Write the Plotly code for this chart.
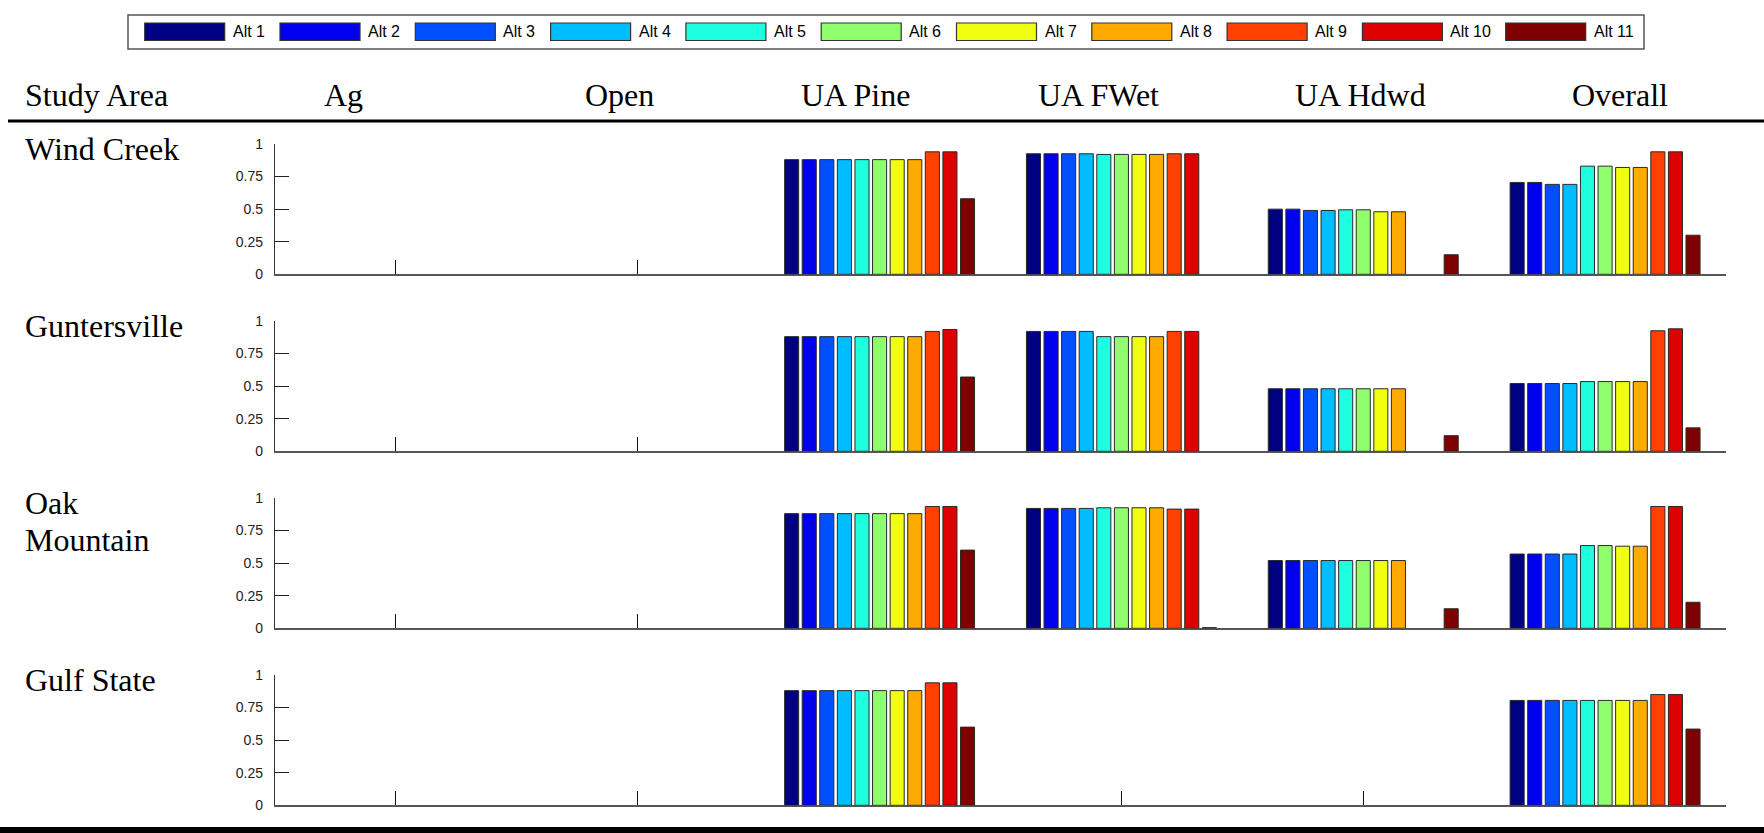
import plotly.graph_objects as go

# ---- data -------------------------------------------------------------
categories = ["Ag", "Open", "UA Pine", "UA FWet", "UA Hdwd", "Overall"]
alternatives = ["Alt 1", "Alt 2", "Alt 3", "Alt 4", "Alt 5", "Alt 6",
                "Alt 7", "Alt 8", "Alt 9", "Alt 10", "Alt 11"]
alt_colors = ["#000083", "#0000EE", "#0050FF", "#00BDFF", "#1EFFDF", "#90FF6E",
              "#F0FF10", "#FFAA00", "#FF4000", "#DE0000", "#7F0000"]
study_areas = ["Wind Creek", "Guntersville", "Oak<br>Mountain", "Gulf State"]

# one row per category, one value per alternative (Alt 1 .. Alt 11)
wind_creek = [
    [0, 0, 0, 0, 0, 0, 0, 0, 0, 0, 0],
    [0, 0, 0, 0, 0, 0, 0, 0, 0, 0, 0],
    [0.88, 0.88, 0.88, 0.88, 0.88, 0.88, 0.88, 0.88, 0.94, 0.94, 0.58],
    [0.925, 0.925, 0.925, 0.925, 0.92, 0.92, 0.92, 0.92, 0.925, 0.925, 0],
    [0.50, 0.50, 0.49, 0.49, 0.495, 0.495, 0.48, 0.48, 0, 0, 0.15],
    [0.705, 0.705, 0.69, 0.69, 0.83, 0.83, 0.82, 0.82, 0.94, 0.94, 0.30],
]
guntersville = [
    [0, 0, 0, 0, 0, 0, 0, 0, 0, 0, 0],
    [0, 0, 0, 0, 0, 0, 0, 0, 0, 0, 0],
    [0.88, 0.88, 0.88, 0.88, 0.88, 0.88, 0.88, 0.88, 0.92, 0.935, 0.57],
    [0.92, 0.92, 0.92, 0.92, 0.88, 0.88, 0.88, 0.88, 0.92, 0.92, 0],
    [0.48, 0.48, 0.48, 0.48, 0.48, 0.48, 0.48, 0.48, 0, 0, 0.12],
    [0.52, 0.52, 0.52, 0.52, 0.535, 0.535, 0.535, 0.535, 0.925, 0.94, 0.18],
]
oak_mountain = [
    [0, 0, 0, 0, 0, 0, 0, 0, 0, 0, 0],
    [0, 0, 0, 0, 0, 0, 0, 0, 0, 0, 0],
    [0.88, 0.88, 0.88, 0.88, 0.88, 0.88, 0.88, 0.88, 0.935, 0.935, 0.60],
    [0.92, 0.92, 0.92, 0.92, 0.925, 0.925, 0.925, 0.925, 0.915, 0.915, 0.005],
    [0.52, 0.52, 0.52, 0.52, 0.52, 0.52, 0.52, 0.52, 0, 0, 0.15],
    [0.57, 0.57, 0.57, 0.57, 0.635, 0.635, 0.63, 0.63, 0.935, 0.935, 0.20],
]
gulf_state = [
    [0, 0, 0, 0, 0, 0, 0, 0, 0, 0, 0],
    [0, 0, 0, 0, 0, 0, 0, 0, 0, 0, 0],
    [0.88, 0.88, 0.88, 0.88, 0.88, 0.88, 0.88, 0.88, 0.94, 0.94, 0.60],
    [0, 0, 0, 0, 0, 0, 0, 0, 0, 0, 0],
    [0, 0, 0, 0, 0, 0, 0, 0, 0, 0, 0],
    [0.805, 0.805, 0.805, 0.805, 0.805, 0.805, 0.805, 0.805, 0.85, 0.85, 0.585],
]
area_values = [wind_creek, guntersville, oak_mountain, gulf_state]

y_tickvals = [0, 0.25, 0.5, 0.75, 1]
y_ticktext = ["0", "0.25", "0.5", "0.75", "1"]

# ---- layout helpers (pixel -> paper) ----------------------------------
W, H = 1764, 833


def px(x):
    return x / W


def py(y):
    return 1 - y / H


SERIF = "Liberation Serif, Times New Roman, serif"
NARROW = "Liberation Sans Narrow, Arial Narrow, Liberation Sans, Arial, sans-serif"

plot_left, plot_right = 275, 1726
row_top0, row_bottom0, row_step = 144, 274.3, 177

fig = go.Figure()
layout_axes = {}

for r, values in enumerate(area_values):
    n = r + 1
    xa = "x" if n == 1 else f"x{n}"
    ya = "y" if n == 1 else f"y{n}"
    for a, name in enumerate(alternatives):
        # empty cells are left out so no outline is stroked on the baseline
        heights = [values[c][a] if values[c][a] > 0 else None
                   for c in range(len(categories))]
        fig.add_trace(go.Bar(
            x=categories,
            y=heights,
            name=name,
            marker=dict(color=alt_colors[a], line=dict(color="#2a2a2a", width=1)),
            xaxis=xa, yaxis=ya, showlegend=False, hoverinfo="x+y+name",
        ))
    top = row_top0 + r * row_step
    bottom = row_bottom0 + r * row_step
    layout_axes[f"xaxis{'' if n == 1 else n}"] = dict(
        domain=[px(plot_left), px(plot_right)], anchor=ya,
        type="category", range=[-0.5, len(categories) - 0.5],
        showticklabels=False, ticks="inside", ticklen=14, tickwidth=1.3,
        tickcolor="#111", showline=True, linecolor="#555", linewidth=2,
        showgrid=False, zeroline=False, layer="below traces", fixedrange=True,
        automargin=False,
    )
    layout_axes[f"yaxis{'' if n == 1 else n}"] = dict(
        domain=[py(bottom), py(top)], anchor=xa,
        range=[0, 1], tickvals=y_tickvals, ticktext=y_ticktext,
        ticks="inside", ticklen=14, tickwidth=1.3, tickcolor="#222",
        showline=True, linecolor="#333", linewidth=1.3,
        showgrid=False, zeroline=False, fixedrange=True, automargin=False,
        tickfont=dict(family=NARROW, size=14, color="#222"),
        ticklabelstandoff=8,
    )

annotations = []
shapes = []

# column headers
header_y = 95
annotations.append(dict(x=px(23), y=py(header_y), xref="paper", yref="paper",
                        text="Study Area", showarrow=False, xanchor="left",
                        yanchor="middle", font=dict(family=SERIF, size=32, color="black")))
header_centers = [343, 619, 855, 1098, 1360, 1620]
for cat, cx in zip(categories, header_centers):
    annotations.append(dict(x=px(cx), y=py(header_y), xref="paper", yref="paper",
                            text=cat, showarrow=False, xanchor="center",
                            yanchor="middle", font=dict(family=SERIF, size=32, color="black")))

# row labels
for r, area in enumerate(study_areas):
    lines = area.split("<br>")
    for k, line in enumerate(lines):
        annotations.append(dict(x=px(23), y=py(149 + r * row_step + k * 37),
                                xref="paper", yref="paper", text=line,
                                showarrow=False, xanchor="left", yanchor="middle",
                                font=dict(family=SERIF, size=32, color="black")))

# rules above and below the table body
shapes.append(dict(type="rect", xref="paper", yref="paper",
                   x0=px(8), x1=1, y0=py(119.5), y1=py(122.5),
                   fillcolor="black", line=dict(width=0)))
shapes.append(dict(type="rect", xref="paper", yref="paper",
                   x0=0, x1=1, y0=py(827), y1=py(833),
                   fillcolor="black", line=dict(width=0)))

# legend box with wide colour swatches
shapes.append(dict(type="rect", xref="paper", yref="paper",
                   x0=px(128), x1=px(1644), y0=py(49), y1=py(15),
                   fillcolor="white", line=dict(color="#555", width=1.5)))
sw_w, pitch = 80, 135.3
for i, (name, col) in enumerate(zip(alternatives, alt_colors)):
    x0 = 144.7 + pitch * i + (8 if i == 10 else 0)
    shapes.append(dict(type="rect", xref="paper", yref="paper",
                       x0=px(x0), x1=px(x0 + sw_w), y0=py(40.5), y1=py(23),
                       fillcolor=col, line=dict(color="#333", width=1.2)))
    annotations.append(dict(x=px(x0 + sw_w + 6), y=py(32), xref="paper", yref="paper",
                            text=name, showarrow=False, xanchor="left", yanchor="middle",
                            font=dict(family=NARROW, size=16, color="black")))

fig.update_layout(
    width=W, height=H,
    margin=dict(l=0, r=0, t=0, b=0, pad=0),
    paper_bgcolor="white", plot_bgcolor="white",
    barmode="group", bargap=0.2, bargroupgap=0.2,
    showlegend=False,
    annotations=annotations, shapes=shapes,
    **layout_axes,
)

# let the fixed-size figure sit flush in the page
page_fit = ("document.body.style.margin='0';"
            "document.body.style.overflow='hidden';")

fig.write_html("out.html", config={"displayModeBar": False}, post_script=page_fit)
